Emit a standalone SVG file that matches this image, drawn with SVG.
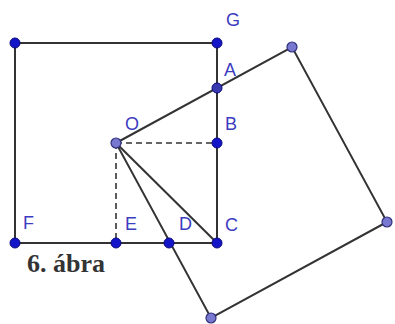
<svg xmlns="http://www.w3.org/2000/svg" width="395" height="324" viewBox="0 0 395 324">
<style>
.ln{stroke:#333;stroke-width:2;fill:none}
.ds{stroke:#333;stroke-width:1.6;fill:none;stroke-dasharray:6,4}
.pd{fill:#1414c8;stroke:#0a0a80;stroke-width:1}
.pl{fill:#7878d0;stroke:#30307a;stroke-width:1.2}
.lb{font-family:"Liberation Sans",Arial,sans-serif;font-size:18px;fill:#3c3cc0}
.cap{font-family:"Liberation Serif","Times New Roman",serif;font-size:26px;font-weight:bold;fill:#333}
</style>
<rect width="395" height="324" fill="#fff"/>
<g id="connectors">
<polygon class="ln" points="15,43 217,43 217,243 15,243"/>
<polygon class="ln" points="116,143 292,47 387,222 211,318"/>
<line class="ln" x1="116" y1="143" x2="217" y2="243"/>
<line class="ds" x1="116" y1="143" x2="217" y2="143"/>
<line class="ds" x1="116" y1="143" x2="116" y2="243"/>
</g>
<g id="pTL"><circle class="pd" cx="15" cy="43" r="5"/></g>
<g id="G"><circle class="pd" cx="217" cy="43" r="5"/><text class="lb" x="226" y="26">G</text></g>
<g id="A"><circle class="pd" cx="217" cy="88" r="5" style="fill:#3a3ab0"/><text class="lb" x="224" y="76">A</text></g>
<g id="B"><circle class="pd" cx="217" cy="143" r="5"/><text class="lb" x="225" y="130">B</text></g>
<g id="C"><circle class="pd" cx="217" cy="243" r="5"/><text class="lb" x="225" y="231">C</text></g>
<g id="D"><circle class="pd" cx="169" cy="243" r="5"/><text class="lb" x="179" y="230">D</text></g>
<g id="E"><circle class="pd" cx="116" cy="243" r="5"/><text class="lb" x="125" y="230">E</text></g>
<g id="F"><circle class="pd" cx="15" cy="243" r="5"/><text class="lb" x="23" y="229">F</text></g>
<g id="O"><circle class="pl" cx="116" cy="143" r="5"/><text class="lb" x="125" y="130">O</text></g>
<g id="R1"><circle class="pl" cx="292" cy="47" r="5"/></g>
<g id="R2"><circle class="pl" cx="387" cy="222" r="5"/></g>
<g id="R3"><circle class="pl" cx="211" cy="318" r="5"/></g>
<text class="cap" x="27" y="272">6. ábra</text>
</svg>
